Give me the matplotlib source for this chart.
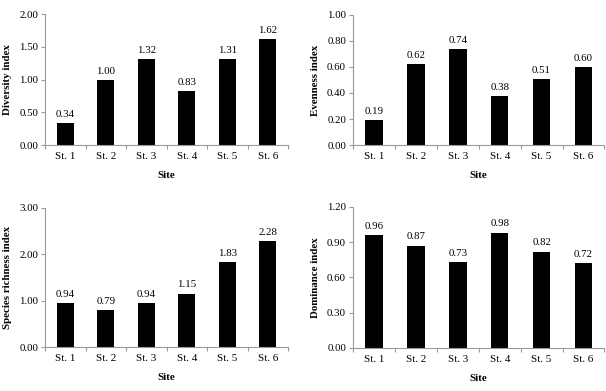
import numpy as np
import matplotlib
matplotlib.use("Agg")
import matplotlib.pyplot as plt
from matplotlib.ticker import FixedLocator

plt.rcParams["font.family"] = ["Liberation Serif", "DejaVu Serif"]

sites = ["St. 1", "St. 2", "St. 3", "St. 4", "St. 5", "St. 6"]
diversity = [0.34, 1.00, 1.32, 0.83, 1.31, 1.62]
evenness = [0.19, 0.62, 0.74, 0.38, 0.51, 0.60]
richness = [0.94, 0.79, 0.94, 1.15, 1.83, 2.28]
dominance = [0.96, 0.87, 0.73, 0.98, 0.82, 0.72]

panels = [
    # values, ylabel, ymax, step, rect
    (diversity, "Diversity index", 2.0, 0.5, [0.0743, 0.629, 0.401, 0.335]),
    (evenness, "Evenness index", 1.0, 0.2, [0.5825, 0.629, 0.415, 0.333]),
    (richness, "Species richness index", 3.0, 1.0, [0.0743, 0.1125, 0.401, 0.356]),
    (dominance, "Dominance index", 1.2, 0.3, [0.5825, 0.110, 0.415, 0.361]),
]

_GRID = "#9a9a9a"

fig = plt.figure(figsize=(6.06, 3.91), dpi=100)

for values, ylabel, ymax, step, rect in panels:
    ax = fig.add_axes(rect)
    x = np.arange(len(sites))
    ax.bar(x, values, width=0.42, color="black")
    for xi, v in zip(x, values):
        ax.text(xi, v + ymax * 0.03, f"{v:.2f}", ha="center", va="bottom",
                fontsize=7.8)
    ax.set_xlim(-0.5, len(sites) - 0.5)
    ax.set_ylim(0, ymax)
    yt = np.arange(0, ymax + step / 2, step)
    ax.set_yticks(yt)
    ax.set_yticklabels([f"{t:.2f}" for t in yt])
    ax.set_xticks(x)
    ax.set_xticklabels(sites)
    ax.xaxis.set_minor_locator(FixedLocator(np.arange(-0.5, len(sites), 1.0)))
    ax.tick_params(axis="x", which="major", length=0, pad=5, labelsize=8)
    ax.tick_params(axis="x", which="minor", length=3, color=_GRID, width=0.8)
    ax.tick_params(axis="y", length=3, color=_GRID, width=0.8, labelsize=7.8,
                   pad=2)
    for side in ("top", "right"):
        ax.spines[side].set_visible(False)
    for side in ("left", "bottom"):
        ax.spines[side].set_color(_GRID)
        ax.spines[side].set_linewidth(0.8)
    ax.set_xlabel("Site", fontsize=7.8, fontweight="bold", labelpad=7)
    ax.set_ylabel(ylabel, fontsize=7.8, fontweight="bold", labelpad=5)

fig.savefig("out.png", dpi=100)
